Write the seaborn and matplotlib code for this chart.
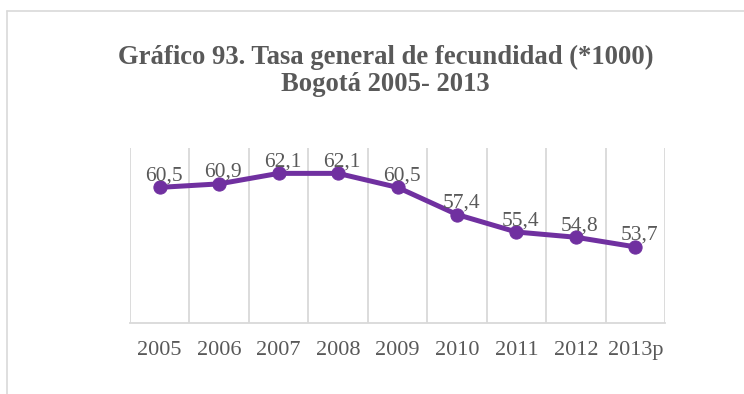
import matplotlib
matplotlib.use("Agg")
import matplotlib.pyplot as plt
from matplotlib.lines import Line2D
import seaborn as sns
import pandas as pd

# Data
years = ["2005", "2006", "2007", "2008", "2009", "2010", "2011", "2012", "2013p"]
rate = [60.5, 60.9, 62.1, 62.1, 60.5, 57.4, 55.4, 54.8, 53.7]
title = "Gráfico 93. Tasa general de fecundidad (*1000)\nBogotá 2005- 2013"

df = pd.DataFrame({"year": years, "rate": rate})

sns.set_style("white")
plt.rcParams["font.family"] = ["Liberation Serif", "DejaVu Serif"]

purple = "#7030A0"
gray_text = "#595959"
grid = "#D9D9D9"

fig = plt.figure(figsize=(7.44, 3.94), dpi=100)
ax = fig.add_axes([130 / 744, 71 / 394, 535 / 744, 175 / 394])

sns.lineplot(data=df, x="year", y="rate", ax=ax, color=purple, linewidth=3.6,
             marker="o", markersize=9.5, markeredgecolor=purple, sort=False)

for i, v in enumerate(rate):
    ax.annotate(f"{v:.1f}".replace(".", ","), (i, v), xytext=(3, 5),
                textcoords="offset points", ha="center", va="baseline",
                fontsize=15.5, color=gray_text)

ax.set_xlim(-0.5, len(years) - 0.5)
ax.set_ylim(45, 65)
ax.set_yticks([])
ax.set_xlabel("")
ax.set_ylabel("")

# vertical gridlines between categories
for b in range(len(years) + 1):
    ax.axvline(b - 0.5, color=grid, linewidth=1.3, zorder=0)

for s in ["top", "right", "left"]:
    ax.spines[s].set_visible(False)
ax.spines["bottom"].set_color(grid)
ax.spines["bottom"].set_linewidth(1.3)
ax.tick_params(axis="x", length=0, pad=13, labelsize=16, labelcolor=gray_text)

fig.text(385.5 / 744, 1 - 71 / 394, title, ha="center", va="center",
         fontsize=19.2, fontweight="bold", color=gray_text, linespacing=1.12)

# outer chart border (only top and left are visible in the crop)
fig.add_artist(Line2D([7 / 744, 1.0], [1 - 11 / 394, 1 - 11 / 394],
                      color=grid, linewidth=1.2, transform=fig.transFigure))
fig.add_artist(Line2D([7 / 744, 7 / 744], [1 - 11 / 394, 0.0],
                      color=grid, linewidth=1.2, transform=fig.transFigure))

fig.savefig("out.png", dpi=100)
